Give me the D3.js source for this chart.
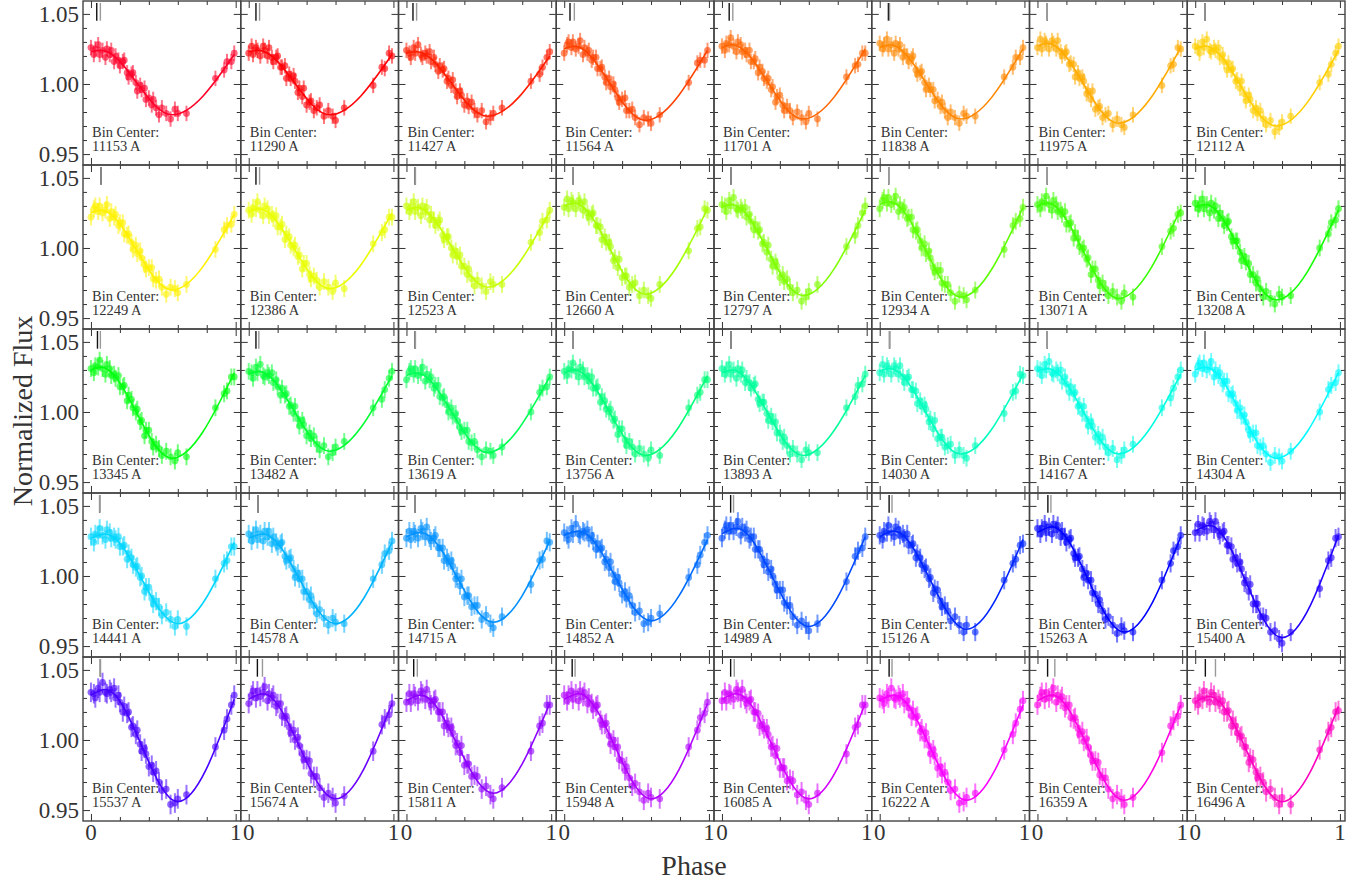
<!DOCTYPE html>
<html><head><meta charset="utf-8">
<script src="https://cdn.jsdelivr.net/npm/d3@7"></script>
<style>body{margin:0;background:#fff} svg{display:block} text{font-family:"Liberation Serif","Times New Roman",serif}</style>
</head><body><svg id="chart" width="1366" height="886"></svg>
<script>
const binCenters = [11153,11290,11427,11564,11701,11838,11975,12112,12249,12386,12523,12660,12797,12934,13071,13208,13345,13482,13619,13756,13893,14030,14167,14304,14441,14578,14715,14852,14989,15126,15263,15400,15537,15674,15811,15948,16085,16222,16359,16496];
const phases = [0.00,0.02,0.03,0.05,0.06,0.08,0.10,0.11,0.13,0.14,0.16,0.17,0.19,0.20,0.22,0.23,0.25,0.26,0.28,0.29,0.31,0.32,0.34,0.35,0.37,0.38,0.40,0.42,0.43,0.45,0.47,0.49,0.52,0.55,0.58,0.60,0.66,0.86,0.92,0.94,0.97,0.99];

const flux_11153 = [1.026,1.021,1.025,1.028,1.021,1.024,1.019,1.025,1.021,1.024,1.016,1.020,1.017,1.013,1.016,1.017,1.008,1.005,1.007,1.008,1.001,0.995,0.999,0.996,0.997,0.989,0.990,0.985,0.989,0.983,0.978,0.983,0.979,0.975,0.982,0.979,0.979,1.004,1.010,1.016,1.016,1.022];
const flux_11290 = [1.022,1.027,1.021,1.026,1.024,1.020,1.027,1.024,1.020,1.026,1.019,1.016,1.019,1.020,1.012,1.012,1.013,1.004,1.007,1.004,1.006,1.002,0.994,0.997,0.991,0.997,0.985,0.987,0.988,0.981,0.983,0.985,0.977,0.981,0.977,0.974,0.983,0.999,1.012,1.011,1.022,1.020];
const flux_11427 = [1.024,1.022,1.019,1.026,1.022,1.028,1.021,1.019,1.022,1.020,1.023,1.016,1.019,1.014,1.009,1.013,1.010,1.011,1.002,1.004,0.999,1.003,0.995,0.991,0.995,0.992,0.985,0.988,0.984,0.987,0.981,0.978,0.981,0.973,0.976,0.979,0.983,1.002,1.007,1.012,1.019,1.023];
const flux_11564 = [1.022,1.028,1.030,1.026,1.030,1.025,1.027,1.031,1.021,1.026,1.022,1.024,1.017,1.019,1.019,1.011,1.011,1.012,1.005,1.001,1.004,0.998,1.000,0.996,0.990,0.987,0.989,0.990,0.981,0.981,0.982,0.976,0.971,0.976,0.975,0.972,0.978,1.001,1.015,1.017,1.017,1.024];
const flux_11701 = [1.027,1.024,1.029,1.028,1.033,1.027,1.023,1.030,1.028,1.023,1.024,1.021,1.024,1.016,1.016,1.018,1.008,1.012,1.009,1.004,1.002,1.004,0.996,0.998,0.987,0.991,0.992,0.985,0.981,0.984,0.981,0.976,0.980,0.976,0.973,0.979,0.975,1.005,1.013,1.014,1.022,1.022];
const flux_11838 = [1.029,1.025,1.028,1.032,1.025,1.028,1.022,1.029,1.025,1.028,1.019,1.023,1.020,1.016,1.018,1.020,1.010,1.007,1.008,1.009,1.001,0.996,0.999,0.996,0.996,0.988,0.989,0.984,0.987,0.981,0.976,0.980,0.976,0.972,0.979,0.977,0.977,1.005,1.012,1.019,1.019,1.026];
const flux_11975 = [1.026,1.032,1.025,1.031,1.029,1.025,1.031,1.029,1.025,1.031,1.023,1.020,1.022,1.023,1.014,1.015,1.014,1.005,1.008,1.004,1.005,1.002,0.993,0.995,0.989,0.995,0.982,0.983,0.984,0.976,0.978,0.979,0.971,0.975,0.971,0.969,0.978,0.999,1.013,1.014,1.026,1.025];
const flux_12112 = [1.027,1.026,1.022,1.030,1.026,1.032,1.024,1.023,1.026,1.024,1.026,1.019,1.021,1.016,1.010,1.015,1.010,1.011,1.002,1.003,0.997,1.002,0.993,0.988,0.992,0.989,0.981,0.983,0.979,0.981,0.975,0.971,0.974,0.966,0.969,0.973,0.977,1.001,1.007,1.014,1.022,1.027];
const flux_12249 = [1.022,1.028,1.030,1.026,1.030,1.025,1.027,1.031,1.021,1.026,1.022,1.024,1.016,1.018,1.018,1.010,1.009,1.010,1.004,0.999,1.002,0.996,0.998,0.993,0.988,0.985,0.986,0.986,0.978,0.977,0.978,0.972,0.967,0.972,0.971,0.968,0.974,0.999,1.013,1.016,1.017,1.024];
const flux_12386 = [1.027,1.024,1.029,1.028,1.033,1.027,1.023,1.030,1.028,1.023,1.024,1.021,1.023,1.015,1.015,1.017,1.006,1.010,1.008,1.002,1.000,1.002,0.994,0.995,0.985,0.989,0.989,0.981,0.978,0.980,0.977,0.972,0.976,0.972,0.969,0.975,0.971,1.003,1.011,1.013,1.022,1.022];
const flux_12523 = [1.030,1.026,1.029,1.033,1.026,1.029,1.023,1.030,1.026,1.029,1.020,1.024,1.020,1.016,1.018,1.020,1.009,1.006,1.008,1.008,1.000,0.995,0.998,0.994,0.995,0.987,0.987,0.981,0.985,0.978,0.973,0.977,0.973,0.969,0.976,0.974,0.974,1.004,1.011,1.019,1.020,1.027];
const flux_12660 = [1.029,1.035,1.028,1.034,1.032,1.028,1.034,1.032,1.027,1.033,1.025,1.022,1.024,1.025,1.016,1.016,1.015,1.006,1.008,1.004,1.004,1.001,0.991,0.993,0.986,0.992,0.979,0.980,0.980,0.972,0.974,0.975,0.966,0.970,0.966,0.964,0.974,0.998,1.014,1.015,1.028,1.027];
const flux_12797 = [1.031,1.030,1.026,1.034,1.030,1.036,1.028,1.027,1.029,1.027,1.029,1.022,1.024,1.019,1.013,1.017,1.012,1.013,1.003,1.004,0.997,1.002,0.992,0.987,0.990,0.987,0.979,0.981,0.976,0.978,0.972,0.968,0.970,0.962,0.965,0.969,0.974,1.001,1.009,1.016,1.025,1.030];
const flux_12934 = [1.028,1.034,1.036,1.032,1.036,1.031,1.033,1.037,1.026,1.031,1.027,1.029,1.021,1.022,1.022,1.013,1.012,1.013,1.005,1.000,1.003,0.996,0.998,0.993,0.986,0.983,0.984,0.984,0.975,0.974,0.974,0.968,0.962,0.967,0.966,0.963,0.970,0.999,1.016,1.019,1.021,1.029];
const flux_13071 = [1.031,1.028,1.033,1.032,1.037,1.031,1.027,1.034,1.031,1.026,1.027,1.024,1.026,1.017,1.017,1.018,1.007,1.011,1.007,1.001,0.999,1.000,0.992,0.993,0.981,0.985,0.985,0.977,0.973,0.975,0.971,0.966,0.969,0.965,0.962,0.968,0.965,1.001,1.012,1.014,1.024,1.025];
const flux_13208 = [1.032,1.028,1.031,1.035,1.028,1.031,1.025,1.032,1.027,1.030,1.021,1.025,1.021,1.016,1.018,1.019,1.008,1.005,1.005,1.005,0.997,0.991,0.994,0.990,0.989,0.981,0.981,0.975,0.978,0.971,0.965,0.969,0.964,0.960,0.967,0.965,0.966,1.000,1.010,1.018,1.020,1.028];
const flux_13345 = [1.031,1.028,1.033,1.032,1.037,1.031,1.027,1.034,1.031,1.026,1.027,1.024,1.026,1.018,1.018,1.019,1.008,1.012,1.009,1.003,1.000,1.002,0.993,0.994,0.983,0.987,0.987,0.979,0.975,0.977,0.974,0.969,0.972,0.968,0.965,0.971,0.968,1.003,1.013,1.015,1.025,1.025];
const flux_13482 = [1.029,1.028,1.024,1.032,1.028,1.034,1.026,1.025,1.028,1.026,1.028,1.021,1.023,1.018,1.012,1.017,1.012,1.013,1.004,1.005,0.999,1.004,0.995,0.990,0.994,0.991,0.983,0.985,0.981,0.983,0.977,0.973,0.976,0.968,0.971,0.975,0.979,1.003,1.009,1.016,1.024,1.029];
const flux_13619 = [1.023,1.029,1.031,1.027,1.031,1.026,1.028,1.032,1.022,1.027,1.023,1.025,1.017,1.019,1.019,1.011,1.010,1.011,1.005,1.000,1.003,0.997,0.999,0.994,0.989,0.986,0.987,0.987,0.979,0.978,0.979,0.973,0.968,0.973,0.972,0.969,0.975,1.000,1.014,1.017,1.018,1.025];
const flux_13756 = [1.029,1.026,1.031,1.030,1.035,1.029,1.025,1.032,1.030,1.025,1.026,1.022,1.025,1.017,1.017,1.018,1.007,1.011,1.008,1.002,1.000,1.002,0.994,0.995,0.984,0.988,0.988,0.980,0.976,0.979,0.975,0.970,0.974,0.970,0.967,0.973,0.969,1.003,1.012,1.014,1.023,1.023];
const flux_13893 = [1.031,1.027,1.030,1.034,1.027,1.030,1.024,1.031,1.027,1.030,1.021,1.024,1.021,1.017,1.019,1.020,1.009,1.006,1.007,1.007,0.999,0.994,0.997,0.993,0.993,0.985,0.985,0.979,0.982,0.976,0.970,0.974,0.970,0.966,0.973,0.971,0.971,1.003,1.011,1.019,1.020,1.027];
const flux_14030 = [1.028,1.034,1.027,1.033,1.031,1.027,1.033,1.031,1.027,1.033,1.025,1.021,1.024,1.025,1.016,1.016,1.015,1.006,1.008,1.004,1.005,1.002,0.993,0.995,0.988,0.994,0.981,0.982,0.982,0.975,0.976,0.977,0.969,0.973,0.969,0.967,0.976,0.999,1.014,1.015,1.027,1.026];
const flux_14167 = [1.031,1.030,1.026,1.034,1.030,1.036,1.028,1.027,1.030,1.028,1.030,1.022,1.025,1.020,1.014,1.018,1.013,1.014,1.004,1.005,0.999,1.004,0.995,0.990,0.993,0.990,0.982,0.984,0.979,0.982,0.975,0.971,0.974,0.966,0.969,0.973,0.977,1.003,1.010,1.017,1.025,1.030];
const flux_14304 = [1.027,1.033,1.035,1.031,1.035,1.030,1.032,1.036,1.025,1.030,1.026,1.028,1.020,1.022,1.022,1.013,1.012,1.013,1.006,1.001,1.003,0.997,0.998,0.993,0.987,0.984,0.985,0.985,0.976,0.975,0.976,0.970,0.964,0.969,0.968,0.965,0.972,1.000,1.016,1.019,1.021,1.028];
const flux_14441 = [1.028,1.024,1.030,1.029,1.034,1.029,1.026,1.033,1.031,1.027,1.028,1.026,1.028,1.021,1.021,1.022,1.012,1.016,1.013,1.008,1.006,1.007,0.999,1.000,0.989,0.992,0.992,0.984,0.980,0.982,0.978,0.972,0.974,0.969,0.964,0.969,0.964,0.998,1.009,1.011,1.021,1.021];
const flux_14578 = [1.030,1.025,1.029,1.033,1.026,1.030,1.025,1.032,1.028,1.032,1.023,1.028,1.024,1.021,1.023,1.024,1.014,1.011,1.012,1.013,1.005,0.999,1.002,0.998,0.998,0.989,0.989,0.983,0.986,0.979,0.973,0.976,0.970,0.965,0.970,0.967,0.966,0.998,1.008,1.016,1.018,1.025];
const flux_14715 = [1.027,1.032,1.026,1.032,1.030,1.027,1.034,1.032,1.028,1.035,1.027,1.025,1.027,1.029,1.020,1.020,1.020,1.011,1.013,1.010,1.011,1.007,0.998,1.000,0.993,0.998,0.985,0.986,0.986,0.978,0.979,0.979,0.969,0.972,0.966,0.963,0.971,0.994,1.011,1.012,1.025,1.024];
const flux_14852 = [1.031,1.029,1.026,1.034,1.030,1.037,1.030,1.029,1.032,1.031,1.033,1.027,1.029,1.025,1.019,1.023,1.019,1.020,1.010,1.012,1.006,1.010,1.001,0.996,0.999,0.995,0.987,0.989,0.984,0.986,0.979,0.974,0.975,0.966,0.967,0.970,0.973,0.999,1.008,1.015,1.024,1.029];
const flux_14989 = [1.027,1.033,1.036,1.032,1.036,1.032,1.035,1.039,1.029,1.035,1.031,1.033,1.026,1.028,1.028,1.019,1.019,1.019,1.012,1.008,1.010,1.003,1.005,1.000,0.994,0.990,0.990,0.990,0.981,0.979,0.979,0.971,0.965,0.968,0.965,0.961,0.966,0.996,1.014,1.018,1.020,1.028];
const flux_15126 = [1.029,1.026,1.032,1.031,1.036,1.031,1.028,1.035,1.033,1.029,1.030,1.027,1.030,1.022,1.022,1.023,1.013,1.016,1.013,1.008,1.005,1.006,0.998,0.999,0.988,0.991,0.990,0.982,0.978,0.979,0.975,0.968,0.971,0.965,0.960,0.965,0.960,0.997,1.009,1.012,1.022,1.023];
const flux_15263 = [1.034,1.030,1.034,1.037,1.031,1.035,1.030,1.037,1.033,1.036,1.028,1.032,1.028,1.024,1.026,1.027,1.016,1.013,1.013,1.014,1.005,0.999,1.002,0.997,0.997,0.988,0.987,0.980,0.983,0.975,0.969,0.971,0.965,0.959,0.964,0.961,0.960,0.997,1.009,1.018,1.021,1.029];
const flux_15400 = [1.031,1.037,1.031,1.036,1.035,1.032,1.039,1.037,1.033,1.039,1.032,1.029,1.031,1.032,1.022,1.022,1.021,1.012,1.013,1.009,1.010,1.005,0.995,0.997,0.989,0.994,0.980,0.980,0.980,0.971,0.971,0.970,0.960,0.961,0.955,0.952,0.960,0.991,1.011,1.013,1.027,1.028];
const flux_15537 = [1.034,1.033,1.030,1.037,1.034,1.041,1.034,1.033,1.036,1.034,1.037,1.030,1.032,1.027,1.020,1.024,1.019,1.020,1.009,1.010,1.004,1.007,0.997,0.992,0.994,0.990,0.981,0.982,0.977,0.978,0.970,0.964,0.965,0.954,0.955,0.958,0.961,0.995,1.007,1.015,1.025,1.032];
const flux_15674 = [1.026,1.032,1.035,1.030,1.035,1.031,1.034,1.038,1.028,1.033,1.030,1.032,1.024,1.026,1.026,1.017,1.016,1.017,1.009,1.005,1.007,1.000,1.002,0.996,0.990,0.986,0.986,0.985,0.976,0.974,0.974,0.966,0.959,0.962,0.959,0.955,0.960,0.992,1.011,1.015,1.018,1.026];
const flux_15811 = [1.027,1.033,1.027,1.033,1.031,1.028,1.035,1.033,1.029,1.036,1.028,1.025,1.028,1.029,1.020,1.020,1.020,1.010,1.012,1.009,1.009,1.005,0.996,0.998,0.991,0.996,0.982,0.983,0.983,0.974,0.975,0.974,0.965,0.967,0.961,0.958,0.966,0.992,1.010,1.012,1.025,1.025];
const flux_15948 = [1.032,1.028,1.032,1.035,1.029,1.033,1.028,1.035,1.031,1.034,1.026,1.030,1.026,1.022,1.024,1.025,1.014,1.011,1.011,1.012,1.003,0.997,1.000,0.995,0.995,0.986,0.985,0.978,0.981,0.973,0.967,0.969,0.963,0.957,0.962,0.959,0.958,0.995,1.007,1.016,1.019,1.027];
const flux_16085 = [1.028,1.034,1.028,1.033,1.032,1.029,1.036,1.034,1.030,1.036,1.029,1.026,1.028,1.029,1.020,1.020,1.019,1.010,1.011,1.008,1.008,1.004,0.995,0.996,0.989,0.994,0.980,0.980,0.980,0.971,0.972,0.971,0.961,0.963,0.957,0.954,0.962,0.990,1.009,1.011,1.025,1.025];
const flux_16222 = [1.030,1.029,1.026,1.033,1.030,1.037,1.030,1.029,1.032,1.030,1.033,1.026,1.028,1.023,1.017,1.021,1.016,1.017,1.006,1.008,1.001,1.005,0.996,0.990,0.993,0.989,0.980,0.981,0.976,0.977,0.970,0.964,0.965,0.955,0.956,0.959,0.962,0.993,1.004,1.012,1.022,1.028];
const flux_16359 = [1.025,1.031,1.034,1.029,1.034,1.030,1.033,1.037,1.027,1.032,1.029,1.031,1.023,1.025,1.025,1.016,1.015,1.016,1.008,1.004,1.006,0.999,1.001,0.995,0.989,0.985,0.985,0.984,0.975,0.973,0.973,0.965,0.958,0.961,0.958,0.954,0.959,0.991,1.010,1.014,1.017,1.025];
const flux_16496 = [1.028,1.025,1.031,1.029,1.035,1.030,1.027,1.034,1.032,1.027,1.029,1.026,1.028,1.020,1.020,1.021,1.010,1.014,1.010,1.005,1.002,1.003,0.995,0.995,0.984,0.987,0.986,0.977,0.973,0.974,0.970,0.963,0.965,0.959,0.954,0.959,0.954,0.993,1.006,1.009,1.020,1.021];

const fluxSets = [flux_11153,flux_11290,flux_11427,flux_11564,flux_11701,flux_11838,flux_11975,flux_12112,
  flux_12249,flux_12386,flux_12523,flux_12660,flux_12797,flux_12934,flux_13071,flux_13208,
  flux_13345,flux_13482,flux_13619,flux_13756,flux_13893,flux_14030,flux_14167,flux_14304,
  flux_14441,flux_14578,flux_14715,flux_14852,flux_14989,flux_15126,flux_15263,flux_15400,
  flux_15537,flux_15674,flux_15811,flux_15948,flux_16085,flux_16222,flux_16359,flux_16496];

const errSize = [0.0055,0.0055,0.0055,0.0055,0.0055,0.0055,0.0055,0.0055,
  0.006,0.006,0.006,0.006,0.006,0.006,0.006,0.006,
  0.006,0.006,0.006,0.006,0.006,0.006,0.006,0.006,
  0.0065,0.0065,0.0065,0.0065,0.0065,0.0065,0.0065,0.0065,
  0.007,0.007,0.007,0.007,0.007,0.007,0.007,0.007];

// fitted model curve, read at key phases: start, peak, trough, end
const fitStart = [1.023,1.023,1.022,1.025,1.026,1.026,1.027,1.025, 1.025,1.026,1.027,1.030,1.029,1.031,1.030,1.029,
  1.030,1.027,1.026,1.028,1.028,1.029,1.029,1.030, 1.027,1.027,1.028,1.029,1.030,1.028,1.031,1.032,
  1.032,1.029,1.028,1.029,1.029,1.028,1.028,1.027];
const fitPeakPhase = [0.07,0.07,0.07,0.07,0.07,0.07,0.07,0.07, 0.07,0.07,0.07,0.07,0.07,0.07,0.07,0.07,
  0.07,0.07,0.07,0.07,0.07,0.07,0.07,0.07, 0.10,0.10,0.10,0.10,0.10,0.10,0.10,0.10,
  0.10,0.10,0.10,0.10,0.10,0.10,0.10,0.10];
const fitPeak = [1.024,1.024,1.023,1.027,1.028,1.028,1.029,1.027, 1.027,1.028,1.029,1.032,1.031,1.033,1.032,1.031,
  1.032,1.029,1.028,1.030,1.030,1.031,1.031,1.032, 1.030,1.030,1.031,1.032,1.034,1.032,1.035,1.036,
  1.036,1.033,1.032,1.033,1.033,1.032,1.032,1.031];
const fitTroughPhase = [0.56,0.56,0.56,0.56,0.56,0.56,0.56,0.56, 0.56,0.56,0.56,0.56,0.56,0.56,0.56,0.56,
  0.56,0.56,0.56,0.56,0.56,0.56,0.56,0.56, 0.60,0.60,0.60,0.60,0.60,0.60,0.60,0.60,
  0.60,0.60,0.60,0.60,0.60,0.60,0.60,0.60];
const fitTrough = [0.978,0.978,0.977,0.974,0.975,0.975,0.972,0.970, 0.970,0.971,0.972,0.967,0.966,0.965,0.964,0.963,
  0.967,0.972,0.971,0.969,0.969,0.970,0.970,0.967, 0.966,0.966,0.967,0.968,0.964,0.962,0.960,0.956,
  0.956,0.958,0.962,0.958,0.958,0.957,0.957,0.956];
const fitEndPhase = 0.99;
const fitEnd = [1.021,1.021,1.020,1.024,1.025,1.025,1.026,1.024, 1.024,1.025,1.026,1.028,1.027,1.029,1.028,1.027,
  1.028,1.026,1.025,1.026,1.026,1.027,1.027,1.028, 1.024,1.024,1.025,1.026,1.028,1.026,1.028,1.029,
  1.029,1.026,1.026,1.026,1.026,1.025,1.025,1.024];

// reference phase markers at the top of each panel
const markBlack = [0.040,0.050,0.045,0.040,0.050,0.060,0.068,0.069, 0.069,0.050,0.060,0.062,0.062,0.062,0.068,0.068,
  0.045,0.050,0.060,0.062,0.062,0.068,0.068,0.068, 0.060,0.065,0.060,0.062,0.060,0.065,0.072,0.069,
  0.065,0.060,0.050,0.055,0.060,0.065,0.070,0.070];
const markGray = [0.065,0.075,0.070,0.070,0.075,0.068,0.068,0.069, 0.069,0.075,0.062,0.062,0.062,0.062,0.068,0.068,
  0.065,0.070,0.062,0.062,0.062,0.068,0.068,0.068, 0.060,0.065,0.060,0.062,0.080,0.085,0.093,0.069,
  0.065,0.095,0.075,0.075,0.085,0.085,0.120,0.140];

const yMajorTicks = [0.95,1.00,1.05];
const yMinorTicks = [0.96,0.97,0.98,0.99,1.01,1.02,1.03,1.04];
const xMajorTicks = [0,1];
const xMinorTicks = [0.2,0.4,0.6,0.8];
const yTickLabels = ["0.95","1.00","1.05"];
const xTickLabels = ["0","1"];

// gist_rainbow colormap
const cmapStops = [0,0.03,0.215,0.4,0.586,0.77,0.954,1];
const cmapColors = ["rgb(255,0,41)","rgb(255,0,0)","rgb(255,255,0)","rgb(0,255,0)","rgb(0,255,255)","rgb(0,0,255)","rgb(255,0,255)","rgb(255,0,191)"];

const LEFT = 83, TOP = 1, PW = 157.75, PH = 164, NCOL = 8;
const svg = d3.select('#chart');
const x = d3.scaleLinear().domain([-0.055, 1.035]).range([0, PW]);
const y = d3.scaleLinear().domain([0.9422, 1.0592]).range([PH, 0]);
const cmap = d3.scaleLinear().domain(cmapStops).range(cmapColors).interpolate(d3.interpolateRgb);
const line = d3.line().x(d => x(d[0])).y(d => y(d[1])).curve(d3.curveMonotoneX);
const TICK = '#333';

binCenters.forEach((bc, i) => {
  const r = Math.floor(i / NCOL), c = i % NCOL;
  const g = svg.append('g').attr('transform', `translate(${LEFT + c * PW},${TOP + r * PH})`);
  const col = cmap(i / (binCenters.length - 1));
  const pts = phases.map((p, k) => ({p, f: fluxSets[i][k]}));

  g.append('g').selectAll('line').data(pts).join('line')
    .attr('x1', d => x(d.p)).attr('x2', d => x(d.p))
    .attr('y1', d => y(d.f - errSize[i])).attr('y2', d => y(d.f + errSize[i]))
    .attr('stroke', col).attr('stroke-opacity', 0.55).attr('stroke-width', 2);
  g.append('g').selectAll('circle').data(pts).join('circle')
    .attr('cx', d => x(d.p)).attr('cy', d => y(d.f)).attr('r', 3.4)
    .attr('fill', col).attr('fill-opacity', 0.6);

  const fit = [[0, fitStart[i]], [fitPeakPhase[i], fitPeak[i]], [fitTroughPhase[i], fitTrough[i]], [fitEndPhase, fitEnd[i]]];
  g.append('path').datum(fit).attr('d', line).attr('fill', 'none').attr('stroke', col).attr('stroke-width', 1.6);

  g.append('line').attr('x1', x(markBlack[i])).attr('x2', x(markBlack[i])).attr('y1', 2).attr('y2', PH * 0.12)
    .attr('stroke', '#111').attr('stroke-width', 1.4);
  g.append('line').attr('x1', x(markGray[i])).attr('x2', x(markGray[i])).attr('y1', 2).attr('y2', PH * 0.12)
    .attr('stroke', '#999').attr('stroke-width', 1.4);

  const ax = (axis, tr) => {
    const a = g.append('g').attr('transform', tr).call(axis);
    a.select('.domain').remove();
    a.selectAll('text').remove();
    a.selectAll('line').attr('stroke', TICK).attr('stroke-width', 1);
  };
  ax(d3.axisLeft(y).tickValues(yMajorTicks).tickSize(-7).tickFormat(''), 'translate(0,0)');
  ax(d3.axisLeft(y).tickValues(yMinorTicks).tickSize(-4).tickFormat(''), 'translate(0,0)');
  ax(d3.axisRight(y).tickValues(yMajorTicks).tickSize(-7).tickFormat(''), `translate(${PW},0)`);
  ax(d3.axisRight(y).tickValues(yMinorTicks).tickSize(-4).tickFormat(''), `translate(${PW},0)`);
  ax(d3.axisBottom(x).tickValues(xMajorTicks).tickSize(-7).tickFormat(''), `translate(0,${PH})`);
  ax(d3.axisBottom(x).tickValues(xMinorTicks).tickSize(-4).tickFormat(''), `translate(0,${PH})`);
  ax(d3.axisTop(x).tickValues(xMajorTicks).tickSize(-7).tickFormat(''), 'translate(0,0)');
  ax(d3.axisTop(x).tickValues(xMinorTicks).tickSize(-4).tickFormat(''), 'translate(0,0)');

  g.append('rect').attr('x', 0).attr('y', 0).attr('width', PW).attr('height', PH)
    .attr('fill', 'none').attr('stroke', '#444').attr('stroke-width', 1.4);

  g.append('text').attr('x', 9).attr('y', 136).attr('font-size', 14.5).attr('fill', '#333').text('Bin Center:');
  g.append('text').attr('x', 9).attr('y', 150).attr('font-size', 14.5).attr('fill', '#333').text(bc + ' A');

  if (c === 0) {
    g.selectAll('.ylab').data(yMajorTicks).join('text').attr('class', 'ylab')
      .attr('x', -4).attr('y', d => y(d)).attr('dy', '0.34em').attr('text-anchor', 'end')
      .attr('font-size', 23).attr('fill', '#333').text((d, k) => yTickLabels[k]);
  }
  if (r === Math.floor((binCenters.length - 1) / NCOL)) {
    g.selectAll('.xlab').data(xMajorTicks).join('text').attr('class', 'xlab')
      .attr('x', d => x(d)).attr('y', PH + 19).attr('text-anchor', 'middle')
      .attr('font-size', 23).attr('fill', '#333').text((d, k) => xTickLabels[k]);
  }
});

svg.append('text').attr('x', LEFT + NCOL * PW / 2 - 20).attr('y', 875).attr('text-anchor', 'middle')
  .attr('font-size', 28).attr('fill', '#333').text('Phase');
svg.append('text').attr('transform', `translate(32,${TOP + 5 * PH / 2}) rotate(-90)`).attr('text-anchor', 'middle')
  .attr('font-size', 28).attr('fill', '#333').text('Normalized Flux');
</script>
</body></html>
